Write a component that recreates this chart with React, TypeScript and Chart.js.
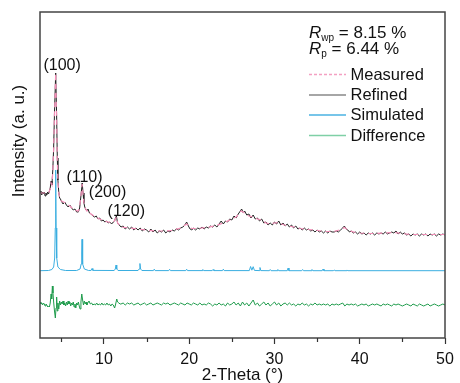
import { useEffect, useRef } from "react";
import { Chart, registerables } from "chart.js";

Chart.register(...registerables);

const FONT = "'Liberation Sans', Arial, Helvetica, sans-serif";

// 2-Theta ticks
const xMajorTicks = [10, 20, 30, 40, 50];
const xMinorTicks = [5, 15, 25, 35, 45];

// [2-Theta (deg), intensity (a.u.)]
const refined: [number, number][] = [
  [2.5, 145], [2.6, 147], [2.7, 143], [2.8, 146], [2.9, 144], [3.0, 146], [3.1, 142], [3.2, 145],
  [3.3, 143], [3.4, 146], [3.5, 144], [3.6, 147], [3.7, 150], [3.8, 157], [3.9, 153], [4.0, 168],
  [4.1, 190], [4.2, 225], [4.34, 265], [4.45, 222], [4.53, 180], [4.6, 158], [4.7, 146], [4.8, 140],
  [4.9, 139], [5.0, 137], [5.2, 134], [5.4, 136], [5.6, 133], [5.8, 131], [6.0, 133], [6.2, 130],
  [6.4, 128], [6.6, 129], [6.8, 126], [7.0, 126], [7.15, 130], [7.3, 142], [7.45, 155], [7.55, 145],
  [7.65, 135], [7.75, 131], [7.9, 128], [8.0, 127], [8.13, 129], [8.3, 125], [8.5, 124], [8.7, 122],
  [8.9, 121], [9.1, 122], [9.3, 119], [9.5, 120], [9.7, 117], [9.9, 118], [10.1, 116], [10.3, 117],
  [10.5, 115], [10.7, 116], [10.9, 114], [11.1, 116], [11.25, 117], [11.35, 120], [11.46, 122], [11.6, 115],
  [11.8, 113], [12.0, 111], [12.25, 112], [12.5, 109], [12.75, 111], [13.0, 109], [13.25, 111], [13.5, 108],
  [13.75, 110], [14.0, 108], [14.25, 110], [14.5, 107], [14.75, 109], [15.0, 108], [15.25, 106], [15.5, 109],
  [15.75, 106], [16.0, 108], [16.25, 105], [16.5, 107], [16.75, 106], [17.0, 108], [17.25, 105], [17.5, 107],
  [17.75, 106], [18.0, 108], [18.25, 107], [18.5, 109], [18.75, 108], [19.0, 110], [19.25, 111], [19.5, 113],
  [19.7, 116], [19.9, 112], [20.1, 109], [20.3, 108], [20.5, 110], [20.75, 108], [21.0, 110], [21.25, 109],
  [21.5, 111], [21.75, 109], [22.0, 111], [22.25, 110], [22.5, 112], [22.75, 111], [23.0, 113], [23.25, 111],
  [23.5, 114], [23.75, 117], [24.0, 114], [24.25, 117], [24.5, 116], [24.75, 119], [25.0, 118], [25.25, 122],
  [25.5, 120], [25.75, 124], [26.0, 127], [26.15, 129], [26.35, 125], [26.5, 127], [26.75, 123], [27.0, 124],
  [27.25, 120], [27.5, 123], [27.75, 119], [28.0, 120], [28.25, 117], [28.5, 119], [28.75, 115], [29.0, 116],
  [29.25, 113], [29.5, 115], [29.75, 113], [30.0, 116], [30.25, 114], [30.5, 117], [30.75, 113], [31.0, 115],
  [31.25, 112], [31.5, 114], [31.75, 111], [32.0, 113], [32.25, 110], [32.5, 112], [32.75, 109], [33.0, 110],
  [33.25, 108], [33.5, 110], [33.75, 108], [34.0, 109], [34.25, 107], [34.5, 108], [34.75, 106], [35.0, 108],
  [35.25, 106], [35.5, 107], [35.75, 105], [36.0, 107], [36.25, 105], [36.5, 107], [36.75, 106], [37.0, 106],
  [37.25, 107], [37.5, 106], [37.75, 108], [38.0, 110], [38.2, 112], [38.4, 109], [38.6, 108], [38.8, 106],
  [39.0, 107], [39.25, 105], [39.5, 106], [39.75, 104], [40.0, 106], [40.25, 104], [40.5, 105], [40.75, 103],
  [41.0, 105], [41.25, 104], [41.5, 105], [41.75, 103], [42.0, 105], [42.25, 104], [42.5, 105], [42.75, 104],
  [43.0, 106], [43.25, 104], [43.5, 105], [43.75, 106], [44.0, 105], [44.25, 107], [44.5, 104], [44.75, 106],
  [45.0, 104], [45.25, 105], [45.5, 103], [45.75, 104], [46.0, 102], [46.25, 104], [46.5, 103], [46.75, 104],
  [47.0, 102], [47.25, 104], [47.5, 103], [47.75, 104], [48.0, 102], [48.25, 104], [48.5, 103], [48.75, 104],
  [49.0, 102], [49.25, 104], [49.5, 103], [49.75, 104], [50.0, 103],
];

const measured: [number, number][] = [
  [2.5, 145], [3.0, 145], [3.5, 145], [3.7, 149], [3.8, 155], [3.9, 153], [4.0, 166], [4.1, 188],
  [4.2, 224], [4.34, 265], [4.45, 220], [4.53, 178], [4.6, 157], [4.7, 145], [4.85, 139], [5.0, 137],
  [5.5, 135], [6.0, 132], [6.5, 128], [7.0, 127], [7.15, 131], [7.3, 142], [7.45, 154], [7.55, 144],
  [7.65, 135], [7.8, 130], [8.0, 127], [8.13, 128], [8.3, 125], [8.5, 124], [9.0, 121], [9.5, 119],
  [10.0, 117], [10.5, 116], [11.0, 115], [11.3, 118], [11.46, 121], [11.6, 115], [12.0, 111], [13.0, 110],
  [14.0, 109], [15.0, 108], [16.0, 107], [17.0, 107], [18.0, 107.5], [19.0, 110], [19.7, 114], [20.3, 109.5],
  [21.0, 109.5], [22.0, 110.5], [23.0, 112], [24.0, 115], [25.0, 119], [25.5, 121], [26.1, 127], [26.6, 124.5],
  [27.0, 122], [27.5, 121], [28.0, 119], [28.5, 118], [29.0, 115], [29.5, 114], [30.0, 115], [30.4, 115.5],
  [31.0, 113.5], [31.5, 112], [32.0, 111.5], [33.0, 109.5], [34.0, 108.5], [35.0, 107.5], [36.0, 106.5], [37.0, 106.5],
  [37.8, 108.5], [38.2, 110.5], [38.7, 107.5], [39.5, 105.5], [40.0, 105], [41.0, 104.5], [42.0, 104.5], [43.0, 105],
  [44.0, 105.5], [45.0, 104.5], [46.0, 103.5], [47.0, 103.5], [48.0, 103.5], [49.0, 103.5], [50.0, 103.5],
];

const simulated: [number, number][] = [
  [2.5, 67.3], [3.5, 67.5], [3.9, 68.5], [4.1, 71], [4.22, 80], [4.29, 110], [4.34, 168], [4.39, 110],
  [4.46, 80], [4.6, 71], [4.9, 68.5], [5.5, 67.5], [6.8, 67.5], [7.2, 69], [7.33, 74], [7.39, 85],
  [7.43, 98.7], [7.47, 85], [7.53, 74], [7.7, 69], [8.2, 67.5], [8.5, 67.6], [8.6, 69.5], [8.7, 67.6],
  [11.2, 67.5], [11.33, 69], [11.42, 73], [11.5, 69], [11.65, 67.5], [14.0, 67.5], [14.13, 69], [14.22, 74.5],
  [14.3, 69], [14.45, 67.5], [15.8, 67.4], [15.9, 68.8], [16.0, 67.4], [17.6, 67.4], [17.7, 68.7], [17.8, 67.4],
  [19.6, 67.4], [19.7, 68.8], [19.8, 67.4], [21.5, 67.4], [21.6, 68.5], [21.7, 67.4], [22.7, 67.4], [22.8, 68.5],
  [22.9, 67.4], [23.9, 67.4], [24.0, 68.8], [24.1, 67.4], [27.05, 67.4], [27.2, 71.5], [27.35, 67.8], [27.5, 71.3],
  [27.65, 67.6], [28.2, 67.4], [28.3, 70.5], [28.4, 67.4], [29.4, 67.3], [29.5, 68.5], [29.6, 67.3], [30.3, 67.3],
  [30.4, 68.5], [30.5, 67.3], [31.5, 67.3], [31.6, 70], [31.7, 67.3], [33.2, 67.3], [33.3, 68.5], [33.4, 67.3],
  [34.3, 67.3], [34.4, 68.5], [34.5, 67.3], [35.6, 67.3], [35.7, 69], [35.8, 67.3], [36.9, 67.3], [37.0, 68],
  [37.1, 67.3], [38.4, 67.3], [38.5, 68], [38.6, 67.3], [50.0, 67.3],
];

const difference: [number, number][] = [
  [2.5, 36], [2.6, 34], [2.7, 35], [2.8, 33], [2.9, 35], [3.0, 34], [3.1, 32], [3.2, 34], [3.3, 33], [3.4, 31],
  [3.5, 32], [3.6, 31], [3.7, 35], [3.8, 44], [3.87, 39], [3.95, 52], [4.02, 45], [4.1, 36], [4.2, 27], [4.3, 20],
  [4.38, 30], [4.45, 41], [4.52, 27], [4.6, 35], [4.7, 29], [4.8, 37], [4.9, 33], [5.0, 36], [5.1, 34], [5.2, 37],
  [5.3, 33], [5.4, 35], [5.5, 32], [5.6, 36], [5.7, 33], [5.8, 37], [5.9, 34], [6.0, 36], [6.1, 32], [6.2, 35],
  [6.3, 33], [6.4, 36], [6.5, 31], [6.6, 34], [6.7, 30], [6.8, 35], [6.9, 33], [7.0, 36], [7.1, 32], [7.2, 29],
  [7.3, 36], [7.4, 44], [7.5, 38], [7.6, 33], [7.7, 37], [7.8, 34], [7.9, 36], [8.0, 33], [8.1, 35], [8.25, 37],
  [8.4, 34], [8.55, 35], [8.7, 33], [8.85, 34], [9.0, 33], [9.15, 35], [9.3, 33], [9.45, 34], [9.6, 33], [9.75, 35],
  [9.9, 33], [10.05, 34], [10.2, 33], [10.35, 35], [10.5, 33], [10.65, 34], [10.8, 32], [10.95, 34], [11.1, 33], [11.25, 30],
  [11.35, 33], [11.5, 39], [11.6, 36], [11.75, 35], [11.9, 34], [12.0, 34], [12.25, 35], [12.5, 33], [12.75, 35], [13.0, 34],
  [13.25, 35], [13.5, 33], [13.75, 34], [14.0, 35], [14.25, 33], [14.5, 34], [14.75, 35], [15.0, 33], [15.25, 34], [15.5, 35],
  [15.75, 33], [16.0, 34], [16.25, 35], [16.5, 34], [16.75, 33], [17.0, 35], [17.25, 34], [17.5, 35], [17.75, 33], [18.0, 34],
  [18.25, 35], [18.5, 34], [18.75, 33], [19.0, 35], [19.25, 34], [19.5, 33], [19.75, 35], [20.0, 34], [20.25, 33], [20.5, 35],
  [20.75, 34], [21.0, 33], [21.25, 35], [21.5, 33], [21.75, 34], [22.0, 33], [22.25, 35], [22.5, 34], [22.75, 32], [23.0, 34],
  [23.25, 33], [23.5, 35], [23.75, 33], [24.0, 34], [24.25, 32], [24.5, 35], [24.75, 33], [25.0, 34], [25.25, 36], [25.5, 33],
  [25.75, 35], [26.0, 32], [26.25, 36], [26.5, 33], [26.75, 35], [27.0, 32], [27.25, 35], [27.5, 38], [27.75, 33], [28.0, 35],
  [28.25, 32], [28.5, 34], [28.75, 36], [29.0, 33], [29.25, 35], [29.5, 32], [29.75, 34], [30.0, 36], [30.25, 33], [30.5, 35],
  [30.75, 32], [31.0, 34], [31.25, 35], [31.5, 33], [31.75, 35], [32.0, 33], [32.25, 34], [32.5, 32], [32.75, 34], [33.0, 33],
  [33.25, 35], [33.5, 33], [33.75, 34], [34.0, 32], [34.25, 34], [34.5, 33], [34.75, 35], [35.0, 33], [35.25, 34], [35.5, 33],
  [35.75, 34], [36.0, 33], [36.25, 34], [36.5, 32], [36.75, 34], [37.0, 33], [37.25, 34], [37.5, 33], [37.75, 34], [38.0, 35],
  [38.25, 32], [38.5, 34], [38.75, 33], [39.0, 34], [39.25, 33], [39.5, 34], [39.75, 32], [40.0, 33], [40.25, 34], [40.5, 33],
  [40.75, 34], [41.0, 32], [41.25, 33], [41.5, 34], [41.75, 33], [42.0, 34], [42.25, 33], [42.5, 32], [42.75, 34], [43.0, 33],
  [43.25, 34], [43.5, 33], [43.75, 32], [44.0, 34], [44.25, 33], [44.5, 34], [44.75, 33], [45.0, 32], [45.25, 33], [45.5, 34],
  [45.75, 33], [46.0, 32], [46.25, 34], [46.5, 33], [46.75, 32], [47.0, 34], [47.25, 33], [47.5, 32], [47.75, 33], [48.0, 34],
  [48.25, 32], [48.5, 33], [48.75, 34], [49.0, 33], [49.25, 32], [49.5, 33], [49.75, 34], [50.0, 33],
];

// Peak labels: [text, 2-Theta, intensity] (text centre)
const peakLabels: [string, number, number][] = [
  ["(100)", 5.1, 272],
  ["(110)", 7.72, 160],
  ["(200)", 10.42, 145],
  ["(120)", 12.62, 126.5],
];

const legendNames = ["Measured", "Refined", "Simulated", "Difference"];
const COLORS = {
  measured: "#f48fb8",
  refined: "#222222",
  simulated: "#3aaee0",
  difference: "#1e9b4b",
};
const legendColors = ["#f4a0c2", "#888888", "#4ab2e2", "#7fd0a6"];

const annotPlugin = {
  id: "annot",
  afterDraw(chart: any) {
    const { ctx, chartArea, scales } = chart;
    const xs = scales.x;
    const ys = scales.y;
    ctx.save();
    // frame
    ctx.strokeStyle = "#444";
    ctx.lineWidth = 1.5;
    ctx.strokeRect(chartArea.left, chartArea.top, chartArea.right - chartArea.left, chartArea.bottom - chartArea.top);
    // minor ticks
    ctx.lineWidth = 1.2;
    ctx.strokeStyle = "#333";
    for (const v of xMinorTicks) {
      const px = Math.round(xs.getPixelForValue(v)) + 0.5;
      ctx.beginPath();
      ctx.moveTo(px, chartArea.bottom);
      ctx.lineTo(px, chartArea.bottom + 4);
      ctx.stroke();
    }
    // peak labels
    ctx.fillStyle = "#111";
    ctx.font = `16px ${FONT}`;
    ctx.textAlign = "center";
    ctx.textBaseline = "middle";
    for (const [t, x, y] of peakLabels) {
      ctx.fillText(t, xs.getPixelForValue(x), ys.getPixelForValue(y));
    }
    // axis titles
    ctx.font = `17px ${FONT}`;
    ctx.fillText("2-Theta (°)", (chartArea.left + chartArea.right) / 2, 375);
    ctx.save();
    ctx.translate(19, 141);
    ctx.rotate(-Math.PI / 2);
    ctx.fillText("Intensity (a. u.)", 0, 0);
    ctx.restore();
    // R factors
    ctx.textAlign = "left";
    ctx.textBaseline = "alphabetic";
    const drawR = (sub: string, rest: string, base: number) => {
      let x = 309;
      ctx.font = `italic 17px ${FONT}`;
      ctx.fillText("R", x, base);
      x += ctx.measureText("R").width;
      ctx.font = `10px ${FONT}`;
      ctx.fillText(sub, x, base + 3);
      x += ctx.measureText(sub).width;
      ctx.font = `17px ${FONT}`;
      ctx.fillText(rest, x, base);
    };
    drawR("wp", " = 8.15 %", 38);
    drawR("p", " = 6.44 %", 53.5);
    // legend
    const rows = [74.5, 95, 115, 135.5];
    ctx.font = `16.5px ${FONT}`;
    ctx.textBaseline = "middle";
    legendNames.forEach((name, i) => {
      ctx.beginPath();
      ctx.strokeStyle = legendColors[i];
      ctx.lineWidth = 1.6;
      ctx.setLineDash(i === 0 ? [3, 2] : []);
      ctx.moveTo(309, rows[i]);
      ctx.lineTo(346, rows[i]);
      ctx.stroke();
      ctx.setLineDash([]);
      ctx.fillStyle = "#111";
      ctx.fillText(name, 350.5, rows[i] + 0.5);
    });
    ctx.restore();
  },
};

export default function App() {
  const ref = useRef<HTMLCanvasElement>(null);
  useEffect(() => {
    const toXY = (a: [number, number][]) => a.map(([x, y]) => ({ x, y }));
    const chart = new Chart(ref.current as HTMLCanvasElement, {
      type: "line",
      data: {
        datasets: [
          {
            label: legendNames[0],
            data: toXY(measured),
            borderColor: COLORS.measured,
            borderWidth: 1.2,
            borderDash: [5, 4],
            pointRadius: 0,
          },
          {
            label: legendNames[1],
            data: toXY(refined),
            borderColor: COLORS.refined,
            borderWidth: 1,
            pointRadius: 0,
          },
          {
            label: legendNames[2],
            data: toXY(simulated),
            borderColor: COLORS.simulated,
            borderWidth: 1,
            pointRadius: 0,
          },
          {
            label: legendNames[3],
            data: toXY(difference),
            borderColor: COLORS.difference,
            borderWidth: 1,
            pointRadius: 0,
          },
        ],
      },
      options: {
        animation: false,
        responsive: true,
        maintainAspectRatio: false,
        parsing: false as any,
        layout: { padding: { left: 40, top: 12, right: 15, bottom: 0 } },
        plugins: { legend: { display: false }, tooltip: { enabled: false } },
        elements: { line: { tension: 0 } },
        scales: {
          x: {
            type: "linear",
            min: 2.5,
            max: 50,
            afterBuildTicks: (s: any) => {
              s.ticks = xMajorTicks.map((v) => ({ value: v }));
            },
            afterFit: (s: any) => {
              s.height = 45;
            },
            grid: { drawOnChartArea: false, drawTicks: true, tickLength: 6, tickColor: "#333", tickWidth: 1.2 },
            border: { display: false },
            ticks: {
              font: { family: FONT, size: 16 },
              color: "#111",
              padding: 6,
              maxRotation: 0,
              autoSkip: false,
            },
          },
          y: {
            type: "linear",
            min: 0,
            max: 326,
            afterFit: (s: any) => {
              s.width = 0;
            },
            ticks: { display: false },
            grid: { display: false, drawTicks: false },
            border: { display: false },
          },
        },
      },
      plugins: [annotPlugin],
    });
    return () => chart.destroy();
  }, []);
  return (
    <div style={{ position: "absolute", left: 0, top: 0, width: 460, height: 383 }}>
      <canvas ref={ref} />
    </div>
  );
}
